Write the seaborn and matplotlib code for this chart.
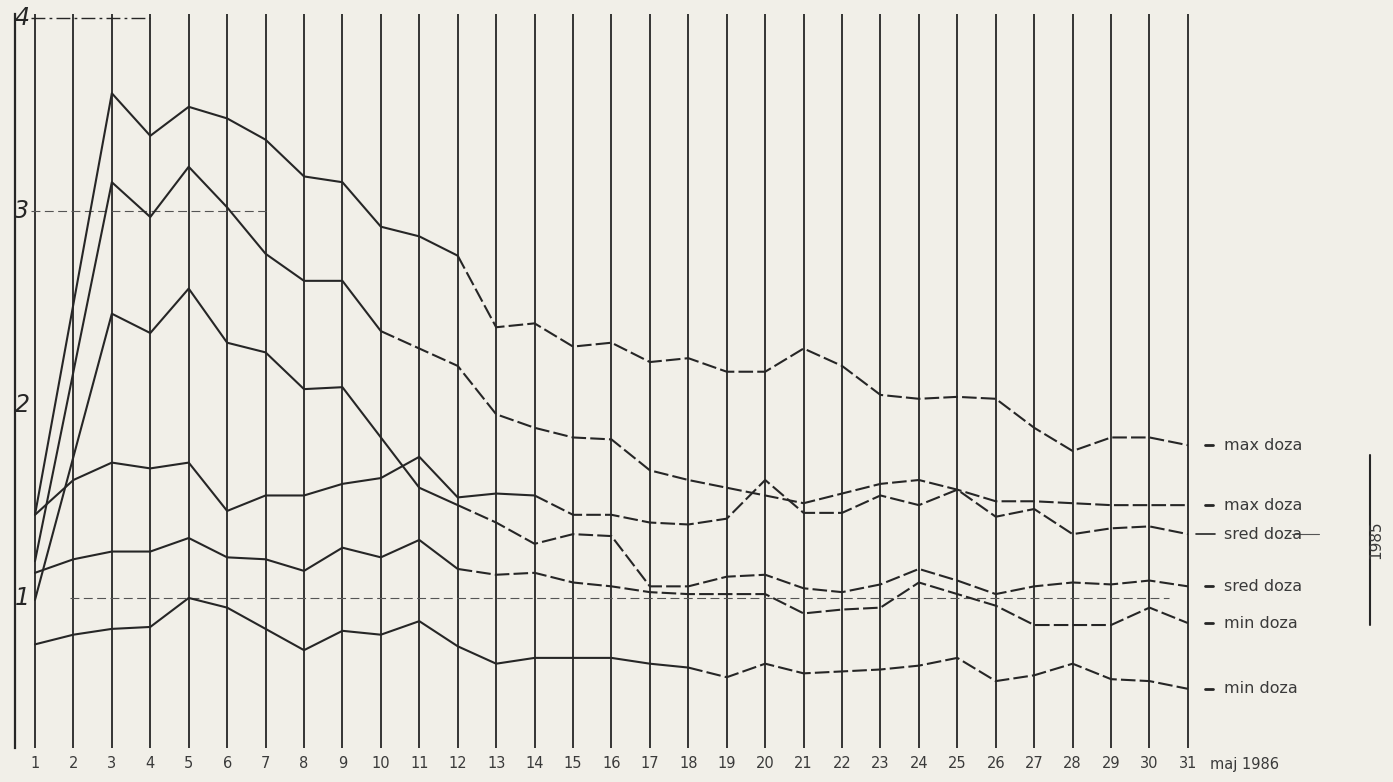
import numpy as np
import pandas as pd
import matplotlib
matplotlib.use('Agg')
import matplotlib.pyplot as plt
import seaborn as sns

# days of May 1986 (some series have no reading on day 2)
days_full = list(range(1, 32))
days_skip2 = [1] + list(range(3, 32))

max_a = [1.43, 3.61, 3.39, 3.54, 3.48, 3.37, 3.18, 3.15, 2.92, 2.87, 2.77,
         2.40, 2.42, 2.30, 2.32, 2.22, 2.24, 2.17, 2.17, 2.29, 2.20, 2.05,
         2.03, 2.04, 2.03, 1.88, 1.76, 1.83, 1.83, 1.79]
max_b = [1.19, 3.15, 2.97, 3.23, 3.02, 2.78, 2.64, 2.64, 2.38, 2.29, 2.20,
         1.95, 1.88, 1.83, 1.82, 1.66, 1.61, 1.57, 1.53, 1.49, 1.54, 1.59,
         1.61, 1.56, 1.50, 1.50, 1.49, 1.48, 1.48, 1.48]
sred_b = [0.99, 2.47, 2.37, 2.60, 2.32, 2.27, 2.08, 2.09, 1.83, 1.57, 1.48,
          1.39, 1.28, 1.33, 1.32, 1.06, 1.06, 1.11, 1.12, 1.05, 1.03, 1.07,
          1.15, 1.09, 1.02, 1.06, 1.08, 1.07, 1.09, 1.06]
sred_a = [1.43, 1.61, 1.70, 1.67, 1.70, 1.45, 1.53, 1.53, 1.59, 1.62, 1.73,
          1.52, 1.54, 1.53, 1.43, 1.43, 1.39, 1.38, 1.41, 1.61, 1.44, 1.44,
          1.53, 1.48, 1.56, 1.42, 1.46, 1.33, 1.36, 1.37, 1.33]
min_a = [1.13, 1.20, 1.24, 1.24, 1.31, 1.21, 1.20, 1.14, 1.26, 1.21, 1.30,
         1.15, 1.12, 1.13, 1.08, 1.06, 1.03, 1.02, 1.02, 1.02, 0.92, 0.94,
         0.95, 1.08, 1.02, 0.96, 0.86, 0.86, 0.86, 0.95, 0.87]
min_b = [0.76, 0.81, 0.84, 0.85, 1.00, 0.95, 0.84, 0.73, 0.83, 0.81, 0.88,
         0.75, 0.66, 0.69, 0.69, 0.69, 0.66, 0.64, 0.59, 0.66, 0.61, 0.62,
         0.63, 0.65, 0.69, 0.57, 0.60, 0.66, 0.58, 0.57, 0.53]

series = {
    'max_a': (days_skip2, max_a, 12),
    'max_b': (days_skip2, max_b, 10),
    'sred_a': (days_full, sred_a, 14),
    'sred_b': (days_skip2, sred_b, 12),
    'min_a': (days_full, min_a, 12),
    'min_b': (days_full, min_b, 18),
}
# right-hand labels, top to bottom, with the series they belong to
legend_names = ['max_a', 'max_b', 'sred_a', 'sred_b', 'min_a', 'min_b']
legend_texts = ['max doza', 'max doza', 'sred doza', 'sred doza', 'min doza', 'min doza']

rows = []
for name, (d, v, cut) in series.items():
    for day, val in zip(d, v):
        if day <= cut:
            rows.append((name, name + '_s', 'solid', day, val))
        if day >= cut:
            rows.append((name, name + '_d', 'dashed', day, val))
df = pd.DataFrame(rows, columns=['series', 'unit', 'seg', 'day', 'value'])

sns.set_theme(style='white')
plt.rcParams['font.family'] = ['DejaVu Sans']

paper = '#f1efe8'
ink = '#262626'

fig = plt.figure(figsize=(13.93, 7.82), dpi=100, facecolor=paper)
# day 1 at x=35px, day 31 at x=1188px; value 4 at y=18px, value 1 at y=598px
ax = fig.add_axes([15 / 1393, 34 / 782, (1191 - 15) / 1393, (748 - 14) / 782])
ax.set_facecolor(paper)
ax.set_xlim(0.48, 31.08)
ax.set_ylim(0.224, 4.02)

# vertical day lines
for d in days_full:
    ax.axvline(d, color=ink, lw=1.3, zorder=1)

# dashed reference levels
ax.hlines(4, 0.9, 4.0, color=ink, lw=1.0, linestyles=(0, (10, 3, 2, 3)))
ax.hlines(3, 0.9, 7.0, color='#555555', lw=0.8, linestyles=(0, (8, 4)))
ax.hlines(1, 1.9, 30.5, color='#555555', lw=0.8, linestyles=(0, (8, 4)))

sns.lineplot(data=df, x='day', y='value', units='unit', estimator=None,
             style='seg', dashes={'solid': '', 'dashed': (7, 2)},
             color=ink, lw=1.5, legend=False, ax=ax, zorder=3, sort=False)

for s in ['top', 'right', 'bottom']:
    ax.spines[s].set_visible(False)
ax.spines['left'].set_color(ink)
ax.spines['left'].set_linewidth(1.6)

ax.set_yticks([])
for v in [1, 2, 3, 4]:
    ax.text(0.66, v, str(v), ha='center', va='center', fontsize=17,
            style='italic', color=ink)

ax.set_xticks(days_full)
ax.set_xticklabels([str(d) for d in days_full], fontsize=10.5, color='#3a3a3a')
ax.tick_params(axis='x', length=0, pad=6)
ax.set_xlabel('')
ax.set_ylabel('')
fig.text(1210 / 1393, 1 - 764 / 782, 'maj 1986', ha='left', va='center',
         fontsize=10.5, color='#3a3a3a')

# labels at the right end of each curve
for name, txt in zip(legend_names, legend_texts):
    yv = series[name][1][-1]
    if name == 'sred_a':
        ax.plot([31.2, 31.7], [yv, yv], color=ink, lw=1.2, clip_on=False)
        ax.plot([33.7, 34.4], [yv, yv], color='#555555', lw=0.8, clip_on=False)
    else:
        ax.plot([31.45, 31.65], [yv, yv], color=ink, lw=2.0, clip_on=False)
    ax.text(31.95, yv, txt, ha='left', va='center', fontsize=11.5,
            color='#3a3a3a', clip_on=False)

# bracket grouping the middle labels
ax.plot([35.75, 35.75], [1.74, 0.86], color=ink, lw=1.5, clip_on=False)
ax.text(35.9, 1.30, '1985', rotation=90, ha='center', va='center',
        fontsize=11, color='#3a3a3a', clip_on=False)

fig.savefig('out.png', dpi=100, facecolor=paper)
